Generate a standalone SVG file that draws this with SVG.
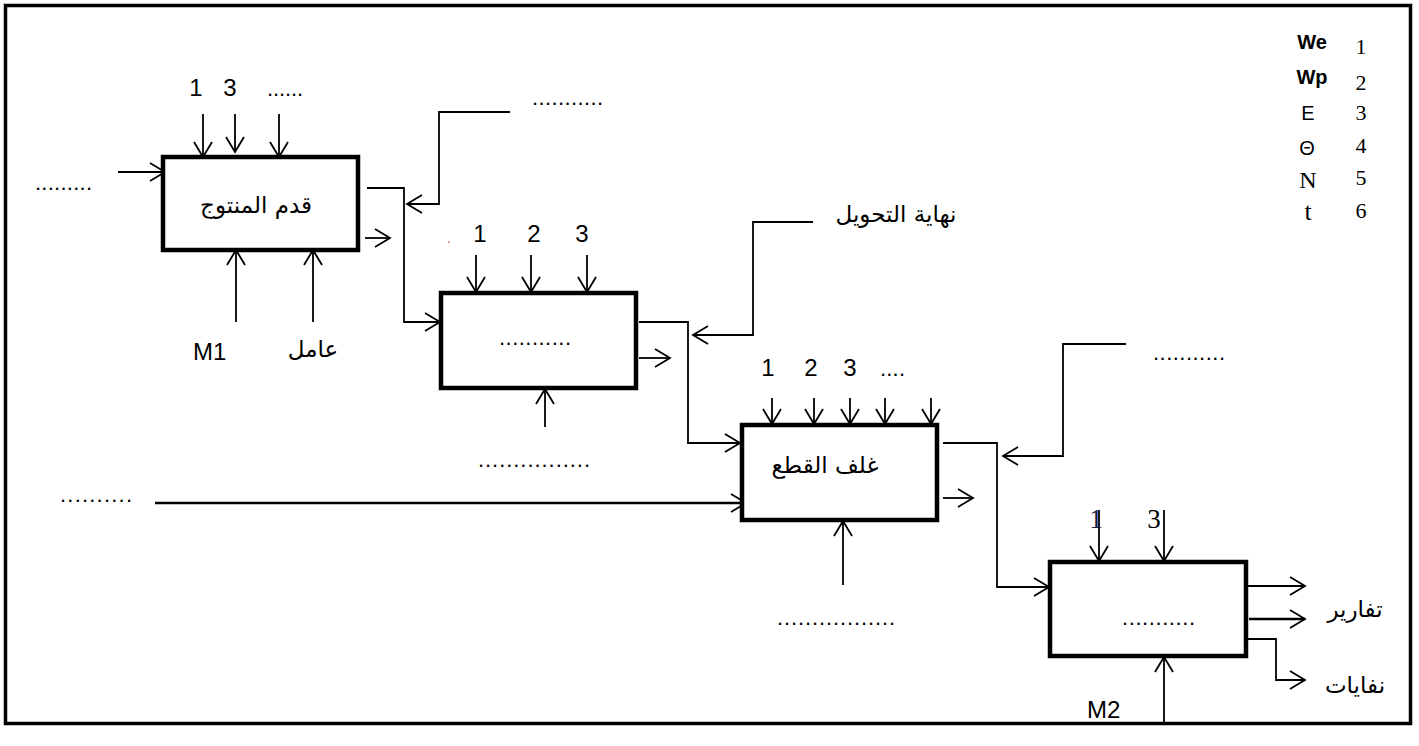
<svg xmlns="http://www.w3.org/2000/svg" width="1419" height="746" viewBox="0 0 1419 746">
<style>
.box{fill:#fff;stroke:#000;stroke-width:4.5}
.ln{fill:none;stroke:#000;stroke-width:1.8}
.lt{fill:none;stroke:#000;stroke-width:2.4}
.t{font-family:"Liberation Sans",Arial,sans-serif;font-size:24px;fill:#000}
.d{font-family:"Liberation Sans",Arial,sans-serif;font-size:22px;fill:#000}
.ar{font-family:"DejaVu Sans","Noto Sans",sans-serif;font-size:23px;fill:#000}
.lg{font-family:"Liberation Sans",Arial,sans-serif;font-size:20px;font-weight:bold;fill:#000}
.ls{font-family:"Liberation Sans",Arial,sans-serif;font-size:20px;fill:#000}
.sf{font-family:"Liberation Serif","Times New Roman",serif;font-size:22px;fill:#000}
</style>
<defs>
<marker id="ah" markerUnits="userSpaceOnUse" markerWidth="18" markerHeight="22" viewBox="0 0 18 22" refX="16" refY="11" orient="auto">
<path d="M1,2 L16,11 L1,20" fill="none" stroke="#000" stroke-width="1.8"/>
</marker>
</defs>
<rect width="1419" height="746" fill="#fff"/>
<rect x="5.5" y="5.5" width="1405" height="718" fill="none" stroke="#000" stroke-width="3.5"/>

<g id="connectors">
<!-- box1 -->
<path class="ln" d="M203,114 V157" marker-end="url(#ah)"/>
<path class="ln" d="M235,114 V152" marker-end="url(#ah)"/>
<path class="ln" d="M279,114 V157" marker-end="url(#ah)"/>
<path class="ln" d="M118,172 H165" marker-end="url(#ah)"/>
<path class="ln" d="M367,188 H404 V322 H440" marker-end="url(#ah)"/>
<path class="ln" d="M365,238 H390" marker-end="url(#ah)"/>
<path class="ln" d="M236,322 V250" marker-end="url(#ah)"/>
<path class="ln" d="M313,322 V250" marker-end="url(#ah)"/>
<path class="ln" d="M510,112 H439 V204 H407" marker-end="url(#ah)"/>
<!-- box2 -->
<path class="ln" d="M476,255 V292" marker-end="url(#ah)"/>
<path class="ln" d="M531,255 V292" marker-end="url(#ah)"/>
<path class="ln" d="M587,255 V292" marker-end="url(#ah)"/>
<path class="ln" d="M639,322 H688 V443 H740" marker-end="url(#ah)"/>
<path class="ln" d="M639,358 H670" marker-end="url(#ah)"/>
<path class="ln" d="M545,427 V389" marker-end="url(#ah)"/>
<path class="ln" d="M813,222 H753 V335 H693" marker-end="url(#ah)"/>
<!-- box3 -->
<path class="ln" d="M772,398 V424" marker-end="url(#ah)"/>
<path class="ln" d="M814,398 V424" marker-end="url(#ah)"/>
<path class="ln" d="M850,398 V424" marker-end="url(#ah)"/>
<path class="ln" d="M885,398 V424" marker-end="url(#ah)"/>
<path class="ln" d="M931,398 V424" marker-end="url(#ah)"/>
<path class="lt" d="M155,503 H746" marker-end="url(#ah)"/>
<path class="ln" d="M943,443 H997 V587 H1049" marker-end="url(#ah)"/>
<path class="ln" d="M943,498 H973" marker-end="url(#ah)"/>
<path class="ln" d="M843,585 V521" marker-end="url(#ah)"/>
<path class="ln" d="M1126,344 H1063 V456 H1003" marker-end="url(#ah)"/>
<!-- box4 -->
<path class="ln" d="M1099,510 V561" marker-end="url(#ah)"/>
<path class="ln" d="M1164,510 V561" marker-end="url(#ah)"/>
<path class="ln" d="M1246,586 H1305" marker-end="url(#ah)"/>
<path class="lt" d="M1249,619 H1305" marker-end="url(#ah)"/>
<path class="ln" d="M1248,639 H1276 V680 H1305" marker-end="url(#ah)"/>
<path class="ln" d="M1164,722 V657" marker-end="url(#ah)"/>
</g>

<g id="node-box1">
<rect class="box" x="163" y="157" width="195" height="93"/>
<text class="ar" x="256" y="213" text-anchor="middle">قدم المنتوج</text>
<text class="t" x="196" y="96" text-anchor="middle">1</text>
<text class="t" x="230" y="96" text-anchor="middle">3</text>
<text class="d" x="267" y="96" textLength="36" lengthAdjust="spacing">......</text>
<text class="d" x="35" y="190" textLength="57" lengthAdjust="spacing">.........</text>
<text class="t" x="193" y="360">M1</text>
<text class="ar" x="313" y="357" text-anchor="middle">عامل</text>
<text class="d" x="532" y="105" textLength="71" lengthAdjust="spacing">...........</text>
</g>

<g id="node-box2">
<rect class="box" x="441" y="293" width="195" height="95"/>
<text class="d" x="499" y="345" textLength="72" lengthAdjust="spacing">...........</text>
<text x="447" y="243" style="font-family:'Liberation Sans',sans-serif;font-size:14px;fill:#b0602a">.</text>
<text class="t" x="480" y="242" text-anchor="middle">1</text>
<text class="t" x="534" y="242" text-anchor="middle">2</text>
<text class="t" x="582" y="242" text-anchor="middle">3</text>
<text class="d" x="478" y="467" textLength="112" lengthAdjust="spacing">................</text>
<text class="ar" x="896" y="222" text-anchor="middle">نهاية التحويل</text>
</g>

<g id="node-box3">
<rect class="box" x="742" y="425" width="195" height="95"/>
<text class="ar" x="825" y="473" text-anchor="middle">غلف القطع</text>
<text class="t" x="768" y="376" text-anchor="middle">1</text>
<text class="t" x="811" y="376" text-anchor="middle">2</text>
<text class="t" x="850" y="376" text-anchor="middle">3</text>
<text class="d" x="880" y="376" textLength="25" lengthAdjust="spacing">....</text>
<text class="d" x="60" y="502" textLength="72" lengthAdjust="spacing">..........</text>
<text class="d" x="777" y="625" textLength="118" lengthAdjust="spacing">.................</text>
<text class="d" x="1153" y="360" textLength="72" lengthAdjust="spacing">...........</text>
</g>

<g id="node-box4">
<rect class="box" x="1050" y="562" width="196" height="94"/>
<text class="d" x="1122" y="625" textLength="73" lengthAdjust="spacing">...........</text>
<text class="sf" x="1096" y="528" text-anchor="middle" style="font-size:27px;fill:#1a1a40">1</text>
<text class="sf" x="1154" y="528" text-anchor="middle" style="font-size:27px">3</text>
<text class="ar" x="1355" y="617" text-anchor="middle">تفارير</text>
<text class="ar" x="1355" y="693" text-anchor="middle">نفايات</text>
<text class="t" x="1087" y="718">M2</text>
</g>

<g id="legend">
<text class="lg" x="1312" y="49" text-anchor="middle">We</text>
<text class="lg" x="1312" y="84" text-anchor="middle">Wp</text>
<text class="ls" x="1308" y="120" text-anchor="middle">E</text>
<text class="ls" x="1307" y="155" text-anchor="middle">Θ</text>
<text class="sf" x="1308" y="188" text-anchor="middle" style="font-size:24px">N</text>
<text class="sf" x="1308" y="220" text-anchor="middle" style="font-size:26px">t</text>
<text class="sf" x="1361" y="54" text-anchor="middle">1</text>
<text class="sf" x="1361" y="90" text-anchor="middle">2</text>
<text class="sf" x="1361" y="120" text-anchor="middle">3</text>
<text class="sf" x="1361" y="153" text-anchor="middle">4</text>
<text class="sf" x="1361" y="185" text-anchor="middle">5</text>
<text class="sf" x="1361" y="218" text-anchor="middle">6</text>
</g>
</svg>
